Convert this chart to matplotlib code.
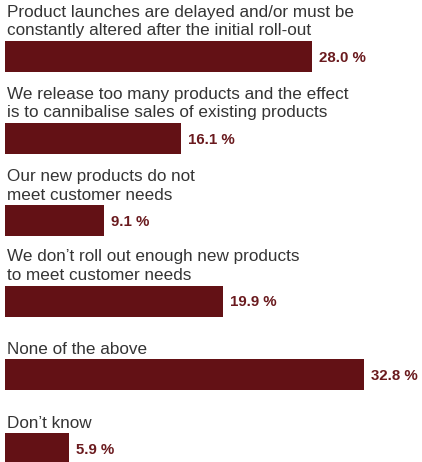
import matplotlib
matplotlib.use("Agg")
import matplotlib.pyplot as plt

# survey answers and share of respondents (%)
answers = [
    "Product launches are delayed and/or must be\nconstantly altered after the initial roll-out",
    "We release too many products and the effect\nis to cannibalise sales of existing products",
    "Our new products do not\nmeet customer needs",
    "We don\u2019t roll out enough new products\nto meet customer needs",
    "None of the above",
    "Don\u2019t know",
]
shares = [28.0, 16.1, 9.1, 19.9, 32.8, 5.9]

# vertical layout in pixel units (y grows downwards)
bar_tops = [41, 123, 205, 286, 359, 433]
bar_h = 31
line_gap = 19

bar_color = "#631115"
value_color = "#6a1a1e"
text_color = "#343434"

plt.rcParams["font.family"] = ["Liberation Sans", "DejaVu Sans"]

fig = plt.figure(figsize=(4.22, 4.62), dpi=100)
ax = fig.add_axes([0, 0, 1, 1])
px_per_unit = 10.97
x0 = 4.5
ax.set_xlim(-x0 / px_per_unit, (422 - x0) / px_per_unit)
ax.set_ylim(462, 0)
ax.axis("off")

for answer, share, top in zip(answers, shares, bar_tops):
    ax.barh(top + bar_h / 2, share, height=bar_h, left=0, color=bar_color)
    lines = answer.split("\n")
    for i, line in enumerate(lines):
        y = top - 10 - (len(lines) - 1 - i) * line_gap
        ax.text(2.5 / px_per_unit, y, line, fontsize=12.3, color=text_color,
                va="center", ha="left")
    ax.text(share + 7 / px_per_unit, top + bar_h / 2 + 1, f"{share:.1f} %",
            fontsize=10.8, fontweight="bold", color=value_color,
            va="center", ha="left")

fig.savefig("out.png", dpi=100)
